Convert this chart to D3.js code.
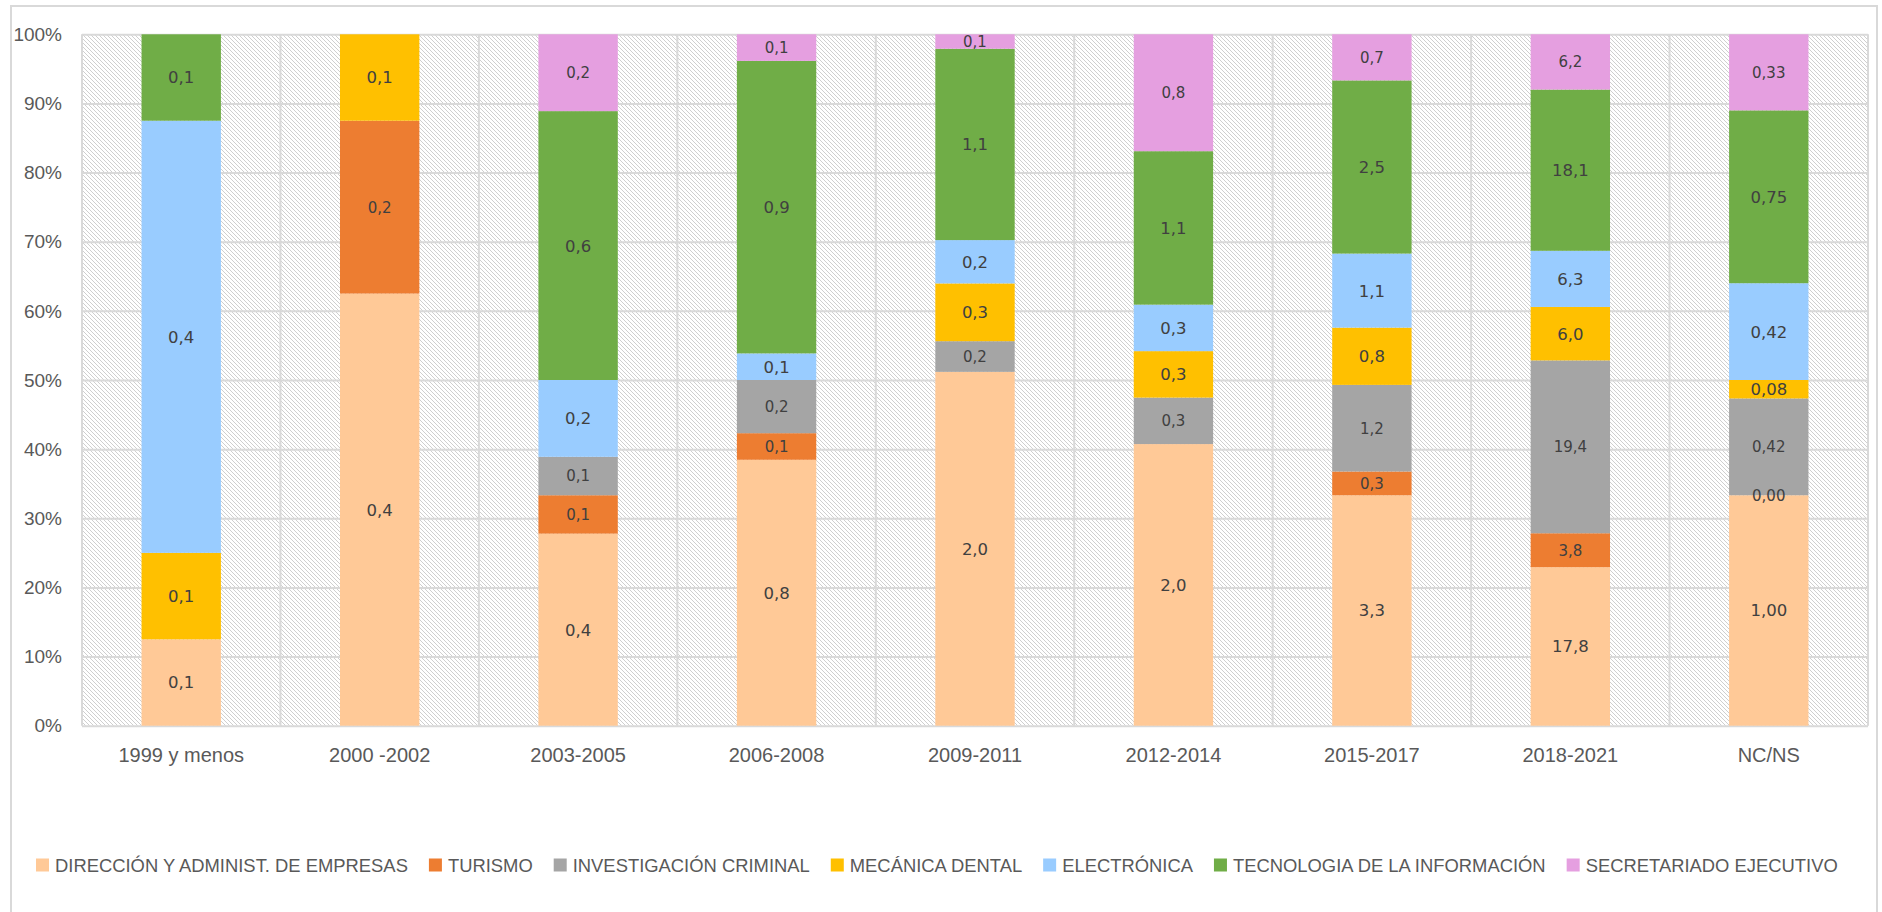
<!DOCTYPE html>
<html>
<head>
<meta charset="utf-8">
<script src="https://cdn.jsdelivr.net/npm/d3@7"></script>
<style>
  html, body { margin: 0; padding: 0; background: #fff; }
  svg { display: block; }
</style>
</head>
<body>
<div id="chart"></div>
<script>
// categories (x axis)
const categories = ['1999 y menos', '2000 -2002', '2003-2005', '2006-2008', '2009-2011', '2012-2014', '2015-2017', '2018-2021', 'NC/NS'];

// series values, one per category (null = no segment)
const direccion    = [0.08, 0.40, 0.40, 0.80, 1.96, 2.00, 3.30, 17.8, 1.00];
const turismo      = [null, 0.16, 0.08, 0.08, null, null, 0.34, 3.8, 0.00];
const investigacion = [null, null, 0.08, 0.16, 0.17, 0.33, 1.24, 19.4, 0.42];
const mecanica     = [0.08, 0.08, null, null, 0.32, 0.33, 0.82, 6.0, 0.08];
const electronica  = [0.40, null, 0.16, 0.08, 0.24, 0.33, 1.06, 6.3, 0.42];
const tecnologia   = [0.08, null, 0.56, 0.88, 1.06, 1.09, 2.48, 18.1, 0.75];
const secretariado = [null, null, 0.16, 0.08, 0.08, 0.83, 0.66, 6.2, 0.33];

// decimals shown in the data labels of each category
const labelDecimals = [1, 1, 1, 1, 1, 1, 1, 1, 2];

const seriesNames = ['DIRECCIÓN Y ADMINIST. DE EMPRESAS', 'TURISMO', 'INVESTIGACIÓN CRIMINAL', 'MECÁNICA DENTAL', 'ELECTRÓNICA', 'TECNOLOGIA DE LA INFORMACIÓN', 'SECRETARIADO EJECUTIVO'];
const seriesValues = [direccion, turismo, investigacion, mecanica, electronica, tecnologia, secretariado];
const yTicks = [0, 0.1, 0.2, 0.3, 0.4, 0.5, 0.6, 0.7, 0.8, 0.9, 1];

const colors = ['#FFC997', '#ED7D31', '#A5A5A5', '#FFC000', '#99CCFF', '#70AD47', '#E59FE0'];
const smallLabel = [false, true, true, false, false, false, true];

const W = 1882, H = 912;
const plot = { left: 82, right: 1868, top: 34.3, bottom: 725.7 };
const gridColor = '#d9d9d9';
const textColor = '#595959';

const locale = d3.formatLocale({ decimal: ',', thousands: '.', grouping: [3], currency: ['', '€'] });

// table for d3.stack
const rows = categories.map((c, i) => {
    const r = { category: c, index: i };
    seriesNames.forEach((s, j) => { r[s] = seriesValues[j][i]; });
    return r;
});

const stacked = d3.stack()
    .keys(seriesNames)
    .value((d, key) => d[key] == null ? 0 : d[key])
    .offset(d3.stackOffsetExpand)(rows);

const svg = d3.select('#chart').append('svg')
    .attr('width', W)
    .attr('height', H);

// hatch pattern for the plot background
const defs = svg.append('defs');
const pat = defs.append('pattern')
    .attr('id', 'hatch')
    .attr('patternUnits', 'userSpaceOnUse')
    .attr('width', 4)
    .attr('height', 4);
pat.append('rect').attr('width', 4).attr('height', 4).attr('fill', '#ffffff');
pat.append('path')
    .attr('d', 'M-1,-1 L5,5 M-1,3 L1,5 M3,-1 L5,1')
    .attr('stroke', '#cfcfcf')
    .attr('stroke-width', 1);

// outer chart border
svg.append('rect')
    .attr('x', 11).attr('y', 6)
    .attr('width', 1866).attr('height', 940)
    .attr('fill', 'none')
    .attr('stroke', gridColor)
    .attr('stroke-width', 2);

const x = d3.scaleBand()
    .domain(categories)
    .range([plot.left, plot.right])
    .padding(0);

const y = d3.scaleLinear()
    .domain([0, 1])
    .range([plot.bottom, plot.top]);

// plot background
svg.append('rect')
    .attr('x', plot.left).attr('y', plot.top)
    .attr('width', plot.right - plot.left)
    .attr('height', plot.bottom - plot.top)
    .attr('fill', 'url(#hatch)');

// horizontal gridlines
svg.append('g')
    .attr('transform', `translate(${plot.left},0)`)
    .call(d3.axisLeft(y)
        .tickValues(yTicks)
        .tickSize(-(plot.right - plot.left))
        .tickFormat(''))
    .call(g => g.select('.domain').remove())
    .selectAll('.tick line')
    .attr('stroke', gridColor)
    .attr('stroke-width', 2);

// vertical gridlines at category boundaries
svg.append('g')
    .selectAll('line')
    .data(categories.concat(['__end']))
    .enter()
    .append('line')
    .attr('x1', (d, i) => i < categories.length ? x(d) : plot.right)
    .attr('x2', (d, i) => i < categories.length ? x(d) : plot.right)
    .attr('y1', plot.top)
    .attr('y2', plot.bottom)
    .attr('stroke', gridColor)
    .attr('stroke-width', 2);

// bars
const barW = x.bandwidth() * 0.4;
const layers = svg.append('g')
    .selectAll('g')
    .data(stacked)
    .enter()
    .append('g')
    .attr('fill', (d, i) => colors[i]);

layers.selectAll('rect')
    .data(d => d)
    .enter()
    .append('rect')
    .attr('x', d => x(d.data.category) + (x.bandwidth() - barW) / 2)
    .attr('y', d => y(d[1]))
    .attr('width', barW)
    .attr('height', d => Math.max(0, y(d[0]) - y(d[1])));

// data labels
stacked.forEach((layer, si) => {
    svg.append('g')
        .selectAll('text')
        .data(layer.filter(d => d.data[layer.key] != null))
        .enter()
        .append('text')
        .attr('x', d => x(d.data.category) + x.bandwidth() / 2)
        .attr('y', d => y((d[0] + d[1]) / 2))
        .attr('dy', '0.36em')
        .attr('text-anchor', 'middle')
        .style('font-family', '"DejaVu Sans", Verdana, sans-serif')
        .style('font-size', smallLabel[si] ? '15px' : '16.5px')
        .attr('fill', '#404040')
        .text(d => {
            const dec = labelDecimals[d.data.index];
            return locale.format(`.${dec}f`)(d.data[layer.key]);
        });
});

// y axis labels
svg.append('g')
    .selectAll('text')
    .data(yTicks)
    .enter()
    .append('text')
    .attr('x', 62)
    .attr('y', d => y(d))
    .attr('dy', '0.35em')
    .attr('text-anchor', 'end')
    .style('font-family', '"Liberation Sans", Arial, sans-serif')
    .style('font-size', '19px')
    .attr('fill', textColor)
    .text(d => d3.format('.0%')(d));

// x axis labels
svg.append('g')
    .selectAll('text')
    .data(categories)
    .enter()
    .append('text')
    .attr('x', d => x(d) + x.bandwidth() / 2)
    .attr('y', 755)
    .attr('dy', '0.35em')
    .attr('text-anchor', 'middle')
    .style('font-family', '"Liberation Sans", Arial, sans-serif')
    .style('font-size', '20px')
    .attr('fill', textColor)
    .text(d => d);

// legend
const legend = svg.append('g');
const legendY = 865;
const sw = 13, swGap = 6, itemGap = 21;
let lx = 36;
seriesNames.forEach((name, i) => {
    const item = legend.append('g');
    item.append('rect')
        .attr('x', lx)
        .attr('y', legendY - sw / 2)
        .attr('width', sw)
        .attr('height', sw)
        .attr('fill', colors[i]);
    const t = item.append('text')
        .attr('x', lx + sw + swGap)
        .attr('y', legendY)
        .attr('dy', '0.36em')
        .style('font-family', '"Liberation Sans", Arial, sans-serif')
        .style('font-size', '18.4px')
        .attr('fill', textColor)
        .text(name);
    lx += sw + swGap + t.node().getComputedTextLength() + itemGap;
});
</script>
</body>
</html>
